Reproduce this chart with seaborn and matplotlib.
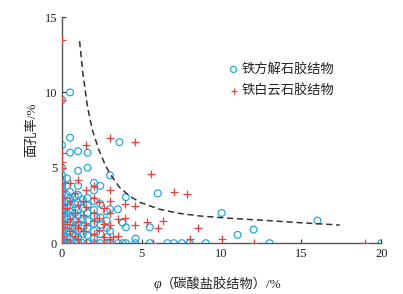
import numpy as np
import pandas as pd
import matplotlib
matplotlib.use('Agg')
import matplotlib.pyplot as plt
import seaborn as sns

# 铁方解石胶结物 (蓝色圆圈): 碳酸盐胶结物含量 x, 面孔率 y
blue_x = [0]*22 + [0.3]*11 + [0.5]*13 + [0.8]*7 + [1.0]*11 + [1.3]*6 + [1.6]*9 + \
         [2.0]*9 + [2.4]*6 + [2.8]*5 + [3.0]*4 + [3.5]*2 + [3.8]*2 + [4.0]*3 + [4.6]*2 + \
         [5.5]*2 + [6.0, 6.6, 7.0, 7.5, 8.0, 9.0, 10.0, 11.0, 12.0, 13.0, 16.0, 20.0, 3.6]
blue_y = [0, 0.2, 0.5, 0.8, 1.0, 1.2, 1.5, 1.8, 2.0, 2.2, 2.5, 2.8, 3.0, 3.3, 3.6, 3.8, 4.0, 4.2, 4.5, 5.0, 6.5, 9.5,
          0, 0.4, 0.8, 1.2, 1.6, 2.0, 2.4, 2.8, 3.2, 3.8, 4.3,
          0, 0.3, 0.7, 1.0, 1.4, 1.8, 2.1, 2.5, 3.0, 3.4, 6.0, 7.0, 10.0,
          0, 0.5, 1.0, 1.5, 2.0, 2.6, 3.1,
          0, 0.4, 0.8, 1.2, 1.8, 2.2, 2.7, 3.2, 3.8, 4.8, 6.1,
          0, 0.6, 1.1, 1.6, 2.3, 2.9,
          0, 0.5, 1.0, 1.5, 2.0, 2.5, 3.0, 5.0, 6.0,
          0, 0.3, 0.8, 1.3, 1.8, 2.2, 2.8, 3.5, 4.0,
          0, 0.6, 1.2, 1.7, 2.6, 3.8,
          0, 0.4, 1.0, 1.5, 2.1,
          0, 0.8, 2.25, 4.5,
          0, 2.25,
          1.35, 0,
          1.05, 3.05, 0,
          0, 0.3,
          1.05, 0,
          3.3, 0, 0, 0, 0, 0, 2.0, 0.55, 0.9, 0, 1.5, 0, 6.7]

# 铁白云石胶结物 (红色十字)
red_x = [0]*14 + [0.3]*3 + [0.5]*5 + [0.8]*4 + [1.0]*6 + [1.3]*3 + [1.5]*5 + [2.0]*6 + \
        [2.3]*3 + [2.6]*4 + [3.0]*7 + [3.2, 3.5, 3.5, 3.95, 3.95, 4.6, 4.6, 4.6, 5.3, 5.6, 5.7,
                                     6.0, 6.3, 7.0, 7.8, 8.0, 8.5, 10.0, 12.0, 19.0]
red_y = [0, 0.5, 1.0, 1.5, 2.0, 2.5, 3.0, 3.5, 4.0, 5.0, 5.4, 6.0, 9.5, 13.5,
         0.3, 1.3, 2.3,
         0, 0.8, 1.6, 2.8, 4.0,
         0.5, 1.2, 2.0, 3.3,
         0, 0.3, 1.0, 1.5, 2.5, 4.2,
         0.8, 1.9, 2.8,
         0, 1.2, 2.4, 3.5, 6.5,
         0, 0.6, 1.5, 2.0, 3.0, 3.8,
         0.9, 1.7, 2.7,
         0, 0.4, 1.3, 2.3,
         0, 0.3, 1.2, 2.0, 2.8, 3.5, 7.0,
         0.4, 0.5, 1.6, 1.7, 2.6, 1.2, 2.45, 6.7, 1.4, 4.6, 0,
         1.0, 1.45, 3.4, 3.25, 0.25, 1.0, 0.25, 0, 0]

# 虚线界限 (从图上读出的点)
curve_x = [1.1, 1.3, 1.6, 1.9, 2.3, 2.7, 3.0, 3.6, 4.2, 4.9, 6.1, 7.3, 8.65, 10.5, 12.85, 15.0, 17.4]
curve_y = [13.4, 11.3, 9.0, 7.5, 6.2, 5.2, 4.6, 3.7, 3.15, 2.7, 2.25, 1.98, 1.8, 1.65, 1.5, 1.35, 1.2]

xticks = [0, 5, 10, 15, 20]
yticks = [0, 5, 10, 15]

sns.set_theme(style='ticks')
plt.rcParams['font.family'] = ['Liberation Serif', 'Noto Sans CJK SC', 'DejaVu Sans']
plt.rcParams['xtick.direction'] = 'in'
plt.rcParams['ytick.direction'] = 'in'

blue_df = pd.DataFrame({'x': blue_x, 'y': blue_y})
red_df = pd.DataFrame({'x': red_x, 'y': red_y})
curve_df = pd.DataFrame({'x': curve_x, 'y': curve_y})

fig = plt.figure(figsize=(4.03, 2.94), dpi=100)
ax = fig.add_axes([0.154, 0.173, 0.792, 0.769])

sns.scatterplot(data=blue_df, x='x', y='y', ax=ax, marker='o', s=24, facecolors='none',
                edgecolor='#2aa7dc', linewidth=0.9, label='铁方解石胶结物', zorder=2)
sns.scatterplot(data=red_df, x='x', y='y', ax=ax, marker='+', s=30, color='#e8413c',
                linewidth=0.9, label='铁白云石胶结物', zorder=3)
sns.lineplot(data=curve_df, x='x', y='y', ax=ax, color='#333333', linestyle=(0, (4, 2.5)),
             linewidth=1.1, sort=False, estimator=None, zorder=4)

ax.set_xlim(0, 20)
ax.set_ylim(0, 15)
ax.set_xticks(xticks)
ax.set_yticks(yticks)
ax.tick_params(labelsize=9, length=3, width=0.8, colors='#333333', labelcolor='#222222')
for s in ['left', 'bottom']:
    ax.spines[s].set_color('#555555')
    ax.spines[s].set_linewidth(1.0)
sns.despine(ax=ax)

ax.set_ylabel('面孔率/%', fontsize=9.5, labelpad=5, color='#222222')
ax.set_xlabel('（碳酸盐胶结物）/%', fontsize=9.5, labelpad=13, color='#222222')

leg = ax.legend(frameon=False, loc='upper left', bbox_to_anchor=(0.5, 0.82), fontsize=9.5,
                handletextpad=0.1, handlelength=1.0, borderaxespad=0, labelspacing=0.65,
                markerscale=0.9)
for t in leg.get_texts():
    t.set_color('#222222')

# 斜体 φ 放在 x 轴标签前面
fig.canvas.draw()
bb = ax.xaxis.label.get_window_extent()
fx, fy = fig.transFigure.inverted().transform((bb.x0, (bb.y0 + bb.y1) / 2))
fig.text(fx, fy, 'φ', ha='right', va='center', fontsize=10, style='italic',
         family='Liberation Serif', color='#222222')

fig.savefig('out.png', dpi=100)
